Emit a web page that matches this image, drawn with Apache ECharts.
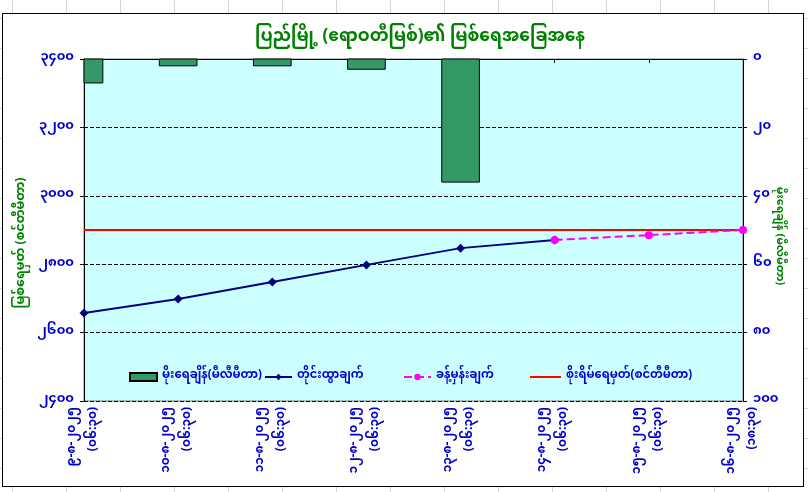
<!DOCTYPE html>
<html>
<head>
<meta charset="utf-8">
<script src="https://cdn.jsdelivr.net/npm/echarts@6/dist/echarts.min.js"></script>
<style>
  html, body { margin:0; padding:0; }
  body {
    width:808px; height:492px; overflow:hidden; position:relative;
    background-color:#ffffff;
    background-image: linear-gradient(to right, #d6d6d6 1px, transparent 1px), linear-gradient(to bottom, #d6d6d6 1px, transparent 1px);
    background-size: 54px 30px;
    background-position: 12px 18px;
  }
  #frame { position:absolute; left:2px; top:13px; width:800px; height:472px; border:1px solid #000; background:#fff; }
  #chart { position:absolute; left:0; top:0; width:808px; height:492px; }
</style>
</head>
<body>
<div id="frame"></div>
<div id="chart"></div>
<script>
const FONT = "'Noto Sans Myanmar', 'Padauk', 'Myanmar Text', 'Noto Sans', sans-serif";

const dates = ['၉-၈-၂၀၂၅','၁၀-၈-၂၀၂၅','၁၁-၈-၂၀၂၅','၁၂-၈-၂၀၂၅','၁၃-၈-၂၀၂၅','၁၄-၈-၂၀၂၅','၁၅-၈-၂၀၂၅','၁၆-၈-၂၀၂၅'];
const times = ['(၀၆:၃၀)','(၀၆:၃၀)','(၀၆:၃၀)','(၀၆:၃၀)','(၀၆:၃၀)','(၀၆:၃၀)','(၀၆:၃၀)','(၁၈:၃၀)'];
const categories = dates.map((d, i) => d + '\n' + times[i]);

const rainfall = [7, 2, 2, 3, 36, null, null, null];
const measured = [2657, 2698, 2748, 2798, 2847, 2871, null, null];
const forecast = [null, null, null, null, null, 2871, 2885, 2900];
const danger = [2900, 2900, 2900, 2900, 2900, 2900, 2900, 2900];

const leftTicks = ['၂၄၀၀','၂၆၀၀','၂၈၀၀','၃၀၀၀','၃၂၀၀','၃၄၀၀'];
const rightTicks = ['၀','၂၀','၄၀','၆၀','၈၀','၁၀၀'];

const titleText = 'ပြည်မြို့ (ဧရာဝတီမြစ်)၏ မြစ်ရေအခြေအနေ';
const leftName = 'မြစ်ရေမှတ် (စင်တီမီတာ)';
const rightName = 'မိုးရေချိန် (မီလီမီတာ)';
const seriesNames = ['မိုးရေချိန်(မီလီမီတာ)', 'တိုင်းထွာချက်', 'ခန့်မှန်းချက်', 'စိုးရိမ်ရေမှတ်(စင်တီမီတာ)'];

const BAR_FRACTION = 0.4;

function renderRainBar(params, api) {
  const v = api.value(1);
  if (v == null || isNaN(v)) return null;
  const idx = api.value(0);
  const base = api.coord([idx, 0]);
  const top = api.coord([idx, v]);
  const w = api.size([1, 0])[0] * BAR_FRACTION;
  const rect = { x: base[0] - w / 2, y: Math.min(base[1], top[1]), width: w, height: Math.abs(top[1] - base[1]) };
  const cs = params.coordSys;
  const clipped = echarts.graphic.clipRectByRect(rect, { x: cs.x, y: cs.y, width: cs.width, height: cs.height });
  if (!clipped) return null;
  return { type: 'rect', shape: clipped, style: api.style() };
}

const legendText = { color: '#0000cc', fontSize: 11.5, fontWeight: 'bold', fontFamily: FONT };
const legendBase = { top: 366, itemWidth: 27, itemHeight: 8, textStyle: legendText, itemGap: 4 };

const chart = echarts.init(document.getElementById('chart'));
chart.setOption({
  backgroundColor: 'transparent',
  textStyle: { fontFamily: FONT },
  animation: false,
  title: {
    text: titleText, left: 415, textAlign: 'center', top: 26,
    textStyle: { color: '#008000', fontSize: 17, fontWeight: 'bold', fontFamily: FONT }
  },
  grid: {
    left: 84, right: 65, top: 59, bottom: 91,
    show: true, backgroundColor: '#ccffff', borderColor: '#808080', borderWidth: 1
  },
  legend: [
    Object.assign({}, legendBase, { left: 124, data: [{ name: seriesNames[0], icon: 'rect' }] }),
    Object.assign({}, legendBase, { left: 259, data: [seriesNames[1]] }),
    Object.assign({}, legendBase, { left: 398, data: [seriesNames[2]] }),
    Object.assign({}, legendBase, { left: 524, itemWidth: 31,
      data: [{ name: seriesNames[3], itemStyle: { color: 'rgba(0,0,0,0)', borderWidth: 0 } }] })
  ],
  xAxis: {
    type: 'category', data: categories, boundaryGap: false,
    axisLine: { lineStyle: { color: '#000', width: 1 } },
    axisTick: { show: true, length: 4, lineStyle: { color: '#000' } },
    axisLabel: { rotate: 90, interval: 0, color: '#0000cc', fontSize: 12, fontWeight: 'bold', margin: 6, lineHeight: 21, fontFamily: FONT }
  },
  yAxis: [
    {
      type: 'value', min: 2400, max: 3400, interval: 200, position: 'left',
      axisLine: { show: true, lineStyle: { color: '#000' } },
      axisTick: { show: true, length: 4, lineStyle: { color: '#000' } },
      splitLine: { show: true, lineStyle: { color: '#000', type: 'dashed', width: 1 } },
      axisLabel: { color: '#0000cc', fontSize: 13, fontWeight: 'bold', margin: 10, fontFamily: FONT,
        formatter: v => leftTicks[Math.round((v - 2400) / 200)] },
      name: leftName, nameLocation: 'middle', nameGap: 55, nameRotate: 90, nameMoveOverlap: false,
      nameTextStyle: { color: '#008000', fontSize: 12.5, fontWeight: 'bold', fontFamily: FONT, padding: [0, 26, 0, 0] }
    },
    {
      type: 'value', min: 0, max: 100, interval: 20, position: 'right', inverse: true,
      axisLine: { show: true, lineStyle: { color: '#000' } },
      axisTick: { show: true, length: 4, lineStyle: { color: '#000' } },
      splitLine: { show: false },
      axisLabel: { color: '#0000cc', fontSize: 13, fontWeight: 'bold', margin: 10, fontFamily: FONT,
        formatter: v => rightTicks[Math.round(v / 20)] },
      name: rightName, nameLocation: 'middle', nameGap: 30, nameRotate: -90, nameMoveOverlap: false,
      nameTextStyle: { color: '#008000', fontSize: 11, fontWeight: 'bold', fontFamily: FONT, padding: [0, 0, 0, 12] }
    }
  ],
  series: [
    {
      name: seriesNames[0], type: 'custom', yAxisIndex: 1, xAxisIndex: 0,
      data: rainfall.map((v, i) => [i, v]), encode: { x: 0, y: 1 },
      renderItem: renderRainBar,
      itemStyle: { color: '#339966', borderColor: '#000', borderWidth: 1 }
    },
    {
      name: seriesNames[3], type: 'line', yAxisIndex: 0, data: danger, symbol: 'none',
      lineStyle: { color: '#ff0000', width: 2 }, itemStyle: { color: '#ff0000' }
    },
    {
      name: seriesNames[1], type: 'line', yAxisIndex: 0, data: measured,
      symbol: 'diamond', symbolSize: 9, showSymbol: true,
      lineStyle: { color: '#000080', width: 2 }, itemStyle: { color: '#000080' }
    },
    {
      name: seriesNames[2], type: 'line', yAxisIndex: 0, data: forecast,
      symbol: 'circle', symbolSize: 8, showSymbol: true,
      lineStyle: { color: '#ff00ff', width: 2, type: 'dashed' }, itemStyle: { color: '#ff00ff' }
    }
  ]
});
</script>
</body>
</html>
